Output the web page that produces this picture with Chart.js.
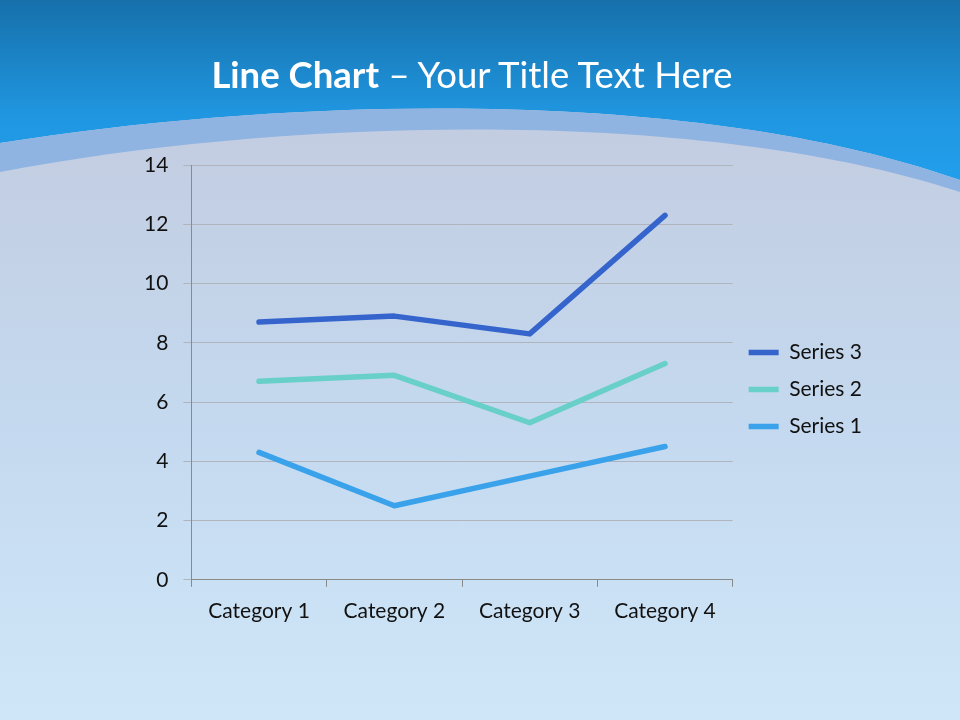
<!DOCTYPE html>
<html>
<head>
<meta charset="utf-8">
<script src="https://cdn.jsdelivr.net/npm/chart.js@4"></script>
<style>
  html, body { margin: 0; padding: 0; }
  #wrap { position: relative; width: 960px; height: 720px; overflow: hidden; }
  #title {
    position: absolute; left: -8px; top: 50px; width: 960px; text-align: center;
    color: #fff; font-family: Lato, "Open Sans", sans-serif; font-size: 36.5px;
    line-height: 48px;
  }
  #title b { font-weight: 700; }
  canvas { position: absolute; left: 0; top: 0; }
</style>
</head>
<body>
<div id="wrap">
  <canvas id="lineChart" width="960" height="720"></canvas>
  <div id="title"><b>Line Chart</b> – Your Title Text Here</div>
</div>
<script>
// Chart data (stacked line, values per series)
const categories = ["Category 1", "Category 2", "Category 3", "Category 4"];
const series1 = [4.3, 2.5, 3.5, 4.5];
const series2 = [2.4, 4.4, 1.8, 2.8];
const series3 = [2, 2, 3, 5];
const yTicks = [0, 2, 4, 6, 8, 10, 12, 14];

// slide background: blue header, curved band and sky
const slideBackground = {
  id: 'slideBackground',
  beforeDraw(chart) {
    const c = chart.ctx;
    c.save();
    let g = c.createLinearGradient(0, 720, 0, 130);
    g.addColorStop(0, '#cfe6f8');
    g.addColorStop(0.5, '#c4d9ef');
    g.addColorStop(1, '#c3cde1');
    c.fillStyle = g;
    c.fillRect(0, 0, 960, 720);

    // header
    g = c.createLinearGradient(0, 0, 0, 190);
    g.addColorStop(0, '#1670aa');
    g.addColorStop(0.6, '#2096e0');
    g.addColorStop(1, '#22a0ee');
    c.fillStyle = g;
    c.beginPath();
    c.moveTo(0, 0);
    c.lineTo(960, 0);
    c.lineTo(960, 180);
    c.bezierCurveTo(700, 88, 300, 95, 0, 143);
    c.closePath();
    c.fill();

    // lighter band
    c.fillStyle = '#8fb4e1';
    c.beginPath();
    c.moveTo(0, 143);
    c.bezierCurveTo(300, 95, 700, 88, 960, 180);
    c.lineTo(960, 192);
    c.bezierCurveTo(700, 106, 280, 118, 0, 172);
    c.closePath();
    c.fill();
    c.restore();
  }
};

// nudge the legend up a little, like the slide
const legendShift = {
  id: 'legendShift',
  afterLayout(chart) {
    chart.legend.top -= 11;
    chart.legend.bottom -= 11;
  }
};

const ctx = document.getElementById('lineChart').getContext('2d');
const lineChart = new Chart(ctx, {
  type: 'line',
  data: {
    labels: categories,
    datasets: [
      { label: 'Series 1', data: series1, borderColor: '#3aa2ea', backgroundColor: '#3aa2ea', borderWidth: 5.5 },
      { label: 'Series 2', data: series2, borderColor: '#68cfc9', backgroundColor: '#68cfc9', borderWidth: 5.5 },
      { label: 'Series 3', data: series3, borderColor: '#3565cc', backgroundColor: '#3565cc', borderWidth: 5.5 }
    ]
  },
  plugins: [slideBackground, legendShift],
  options: {
    responsive: false,
    animation: false,
    layout: { padding: { left: 129, top: 165, right: 88, bottom: 84 } },
    elements: {
      line: { borderCapStyle: 'round', borderJoinStyle: 'round', tension: 0, fill: false },
      point: { radius: 0 }
    },
    scales: {
      x: {
        offset: true,
        grid: { offset: true, drawOnChartArea: false, color: '#8a8a8a', tickLength: 7 },
        border: { color: '#8a8a8a' },
        ticks: { color: '#111', font: { family: 'Lato', size: 21 }, padding: 12 }
      },
      y: {
        stacked: true,
        min: 0, max: 14,
        afterBuildTicks(axis) { axis.ticks = yTicks.map(v => ({ value: v })); },
        grid: { color: '#b0b4bc', tickLength: 8 },
        border: { color: '#8a8a8a' },
        ticks: { color: '#111', font: { family: 'Lato', size: 21 }, padding: 15 }
      }
    },
    plugins: {
      legend: {
        position: 'right',
        reverse: true,
        labels: {
          usePointStyle: true,
          pointStyle: 'line',
          pointStyleWidth: 30,
          color: '#111',
          font: { family: 'Lato', size: 21 },
          padding: 16
        }
      },
      tooltip: { enabled: false }
    }
  }
});
</script>
</body>
</html>
